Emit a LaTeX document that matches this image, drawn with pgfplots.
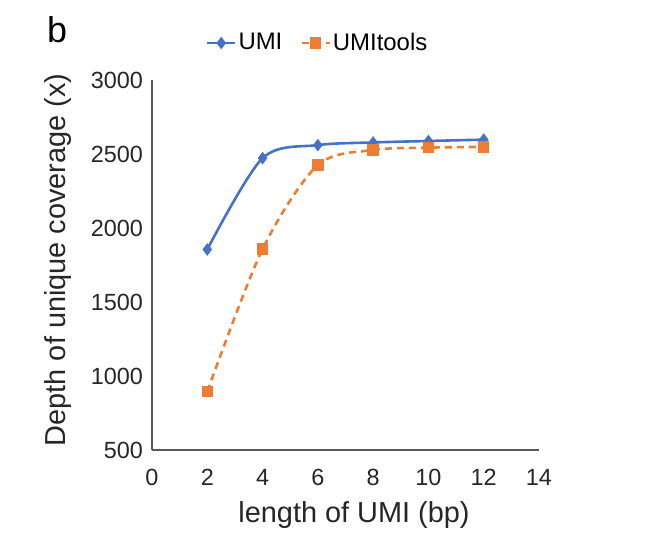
\documentclass[border=0pt]{standalone}
\usepackage{pgfplots}
\pgfplotsset{compat=1.18}
\usepackage{fontspec}
\setmainfont{Liberation Sans}
\definecolor{cblue}{HTML}{4472C4}
\definecolor{corange}{HTML}{ED7D31}
\definecolor{axisgray}{HTML}{595959}
\begin{document}
\begin{tikzpicture}
\useasboundingbox (-76bp,-49bp) rectangle (256bp,225bp);
\begin{axis}[
  at={(0,0)}, anchor=south west,
  scale only axis, width=193.5bp, height=185bp,
  xmin=0, xmax=14, ymin=500, ymax=3000,
  xtick={0,2,...,14}, ytick={500,1000,...,3000},
  axis x line*=bottom, axis y line*=left,
  axis line style={axisgray, line width=1bp, -},
  major tick length=0pt,
  /pgf/number format/assume math mode=true,
  /pgf/number format/set thousands separator={},
  tick label style={font=\fontsize{11.75}{13}\selectfont, text=black!85},
  yticklabel style={xshift=-1bp},
  xticklabel style={yshift=-6bp},
  label style={font=\fontsize{14.5}{16}\selectfont, text=black!85},
  xlabel={length of UMI (bp)},
  ylabel={Depth of unique coverage (x)},
  xlabel style={at={(axis description cs:0.522,0)}, anchor=center, yshift=-32.5bp},
  ylabel style={at={(axis description cs:0,0.514)}, anchor=center, yshift=47bp},
  legend columns=2,
  legend image code/.code={\draw[mark repeat=2,mark phase=2,#1] plot coordinates {(0bp,0bp)(7bp,0bp)(14bp,0bp)};},
  legend style={draw=none, fill=none, at={(axis description cs:0.428,1.10)}, anchor=center,
    font=\fontsize{12}{14}\selectfont, nodes={inner sep=1bp},
    /tikz/every even column/.append style={column sep=8bp}},
  legend cell align=left,
]
\addplot[cblue, line width=1.3bp, smooth, mark=diamond*, mark size=2.1bp, mark options={solid}]
  coordinates {(2,1855) (4,2472) (6,2560) (8,2578) (10,2588) (12,2597)};
\addlegendentry{UMI}
\addplot[corange, line width=1.3bp, smooth, dash pattern=on 3.5bp off 2.5bp, mark=square*, mark size=2.2bp, mark options={solid}]
  coordinates {(2,895) (4,1858) (6,2425) (8,2527) (10,2543) (12,2548)};
\addlegendentry{UMItools}
\end{axis}
\node[anchor=base, font=\fontsize{18}{20}\selectfont] at (-47.5bp,203.5bp) {b};
\end{tikzpicture}
\end{document}
